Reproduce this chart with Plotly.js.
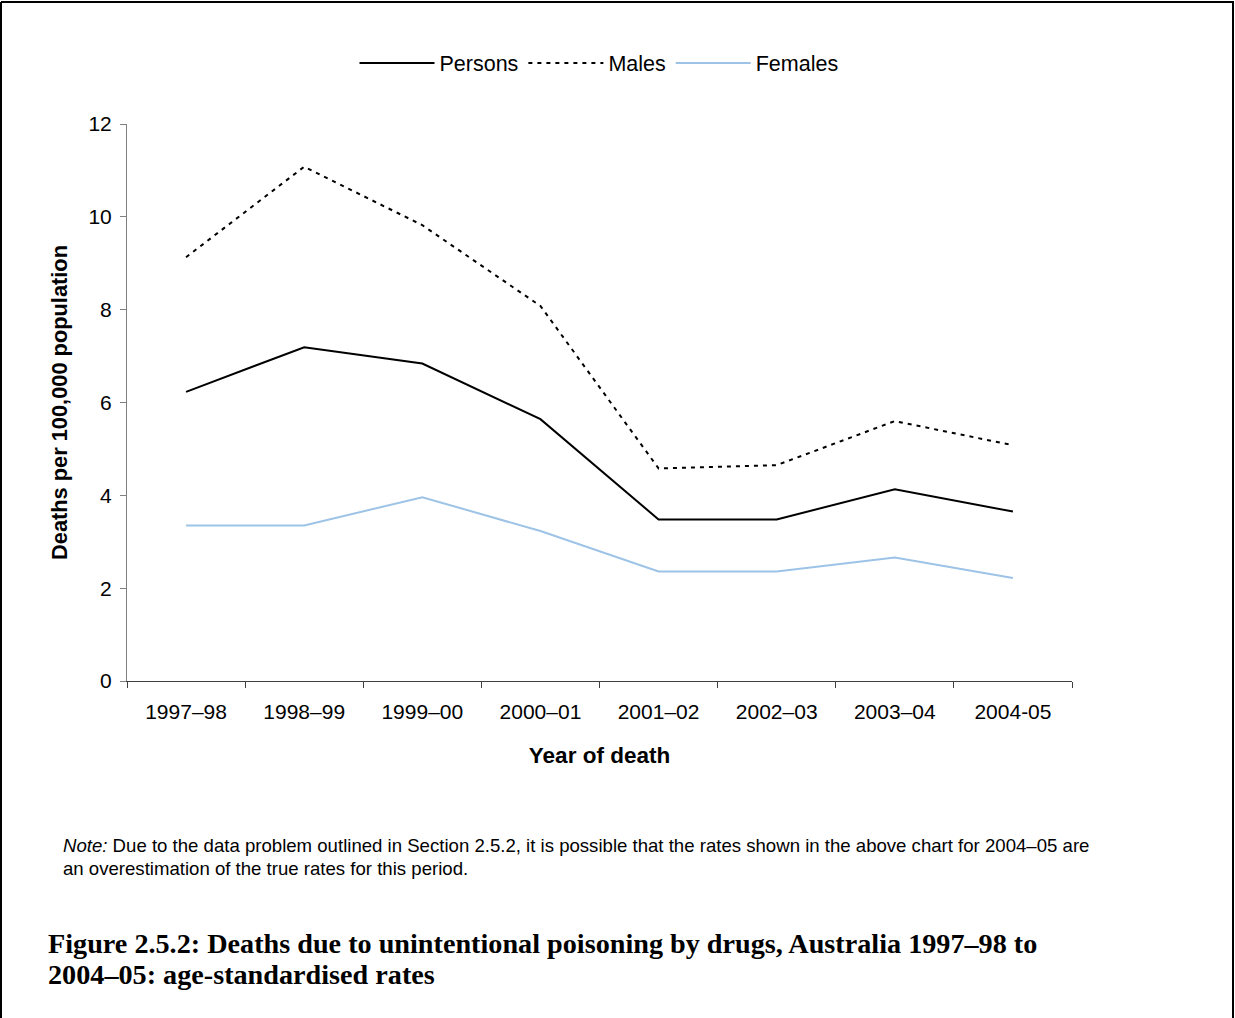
<!DOCTYPE html>
<html>
<head>
<meta charset="utf-8">
<script src="https://cdn.plot.ly/plotly-3.0.1.min.js"></script>
<style>
html,body{margin:0;padding:0;background:#fff;}
#chart{width:1235px;height:1018px;}
</style>
</head>
<body>
<div id="chart"></div>
<script>
var years = ["1997–98","1998–99","1999–00","2000–01","2001–02","2002–03","2003–04","2004-05"];
var persons = [6.23, 7.19, 6.84, 5.64, 3.48, 3.48, 4.13, 3.65];
var males = [9.13, 11.08, 9.82, 8.08, 4.58, 4.65, 5.60, 5.08];
var females = [3.35, 3.35, 3.96, 3.23, 2.36, 2.36, 2.66, 2.22];
var yTicks = [0, 2, 4, 6, 8, 10, 12];

var L = 127, R = 1072, T = 124, B = 681;
function px(x){ return (x - L) / (R - L); }
function py(y){ return (B - y) / (B - T); }

var traces = [
  {x: years, y: persons, name: "Persons", type: "scatter", mode: "lines",
   line: {color: "#000000", width: 2}},
  {x: years, y: males, name: "Males", type: "scatter", mode: "lines",
   line: {color: "#000000", width: 2, dash: "4px,5px"}},
  {x: years, y: females, name: "Females", type: "scatter", mode: "lines",
   line: {color: "#9DC3E6", width: 2}}
];

var layout = {
  width: 1235, height: 1018,
  paper_bgcolor: "#ffffff", plot_bgcolor: "#ffffff",
  margin: {l: L, r: 1235 - R, t: T, b: 1018 - B, pad: 0},
  font: {family: "Liberation Sans, Arial, sans-serif", color: "#000000", size: 21},
  showlegend: true,
  legend: {orientation: "h", x: px(599), xanchor: "center", y: py(63), yanchor: "middle",
           font: {size: 21.5}, itemwidth: 75, traceorder: "normal", bgcolor: "rgba(0,0,0,0)"},
  xaxis: {
    type: "category", range: [-0.5, 7.5], tickson: "boundaries",
    showline: true, linecolor: "#404040", linewidth: 1,
    ticks: "outside", ticklen: 6, tickcolor: "#404040",
    showgrid: false, zeroline: false, fixedrange: true,
    tickfont: {size: 21}, ticklabelstandoff: 12,
    title: {text: "<b>Year of death</b>", font: {size: 22.5}, standoff: 25}
  },
  yaxis: {
    range: [0, 12], tickvals: yTicks, ticktext: yTicks.map(String),
    showline: true, linecolor: "#808080", linewidth: 1,
    ticks: "outside", ticklen: 6, tickcolor: "#808080",
    showgrid: false, zeroline: false, fixedrange: true,
    tickfont: {size: 21}, ticklabelstandoff: 4,
    title: {text: "<b>Deaths per 100,000 population</b>", font: {size: 21.8}, standoff: 14}
  },
  shapes: [
    {type: "line", xref: "paper", yref: "paper", x0: px(1), x1: px(1), y0: py(2), y1: py(1018), line: {color: "#000", width: 2}},
    {type: "line", xref: "paper", yref: "paper", x0: px(1), x1: px(1234), y0: py(2), y1: py(2), line: {color: "#000", width: 2}},
    {type: "line", xref: "paper", yref: "paper", x0: px(1233), x1: px(1233), y0: py(2), y1: py(1018), line: {color: "#000", width: 2}}
  ],
  annotations: [
    {xref: "paper", yref: "paper", x: px(61), y: py(845), xanchor: "left", yanchor: "middle", showarrow: false,
     align: "left", font: {size: 18.6, family: "Liberation Sans, Arial, sans-serif"},
     text: "<i>Note:</i> Due to the data problem outlined in Section 2.5.2, it is possible that the rates shown in the above chart for 2004–05 are"},
    {xref: "paper", yref: "paper", x: px(61), y: py(868), xanchor: "left", yanchor: "middle", showarrow: false,
     align: "left", font: {size: 18.6, family: "Liberation Sans, Arial, sans-serif"},
     text: "an overestimation of the true rates for this period."},
    {xref: "paper", yref: "paper", x: px(46), y: py(943), xanchor: "left", yanchor: "middle", showarrow: false,
     align: "left", font: {size: 28.2, family: "Liberation Serif, Times New Roman, serif"},
     text: "<b>Figure 2.5.2: Deaths due to unintentional poisoning by drugs, Australia 1997–98 to</b>"},
    {xref: "paper", yref: "paper", x: px(46), y: py(975), xanchor: "left", yanchor: "middle", showarrow: false,
     align: "left", font: {size: 28.2, family: "Liberation Serif, Times New Roman, serif"},
     text: "<b>2004–05: age-standardised rates</b>"}
  ]
};

Plotly.newPlot("chart", traces, layout, {displayModeBar: false, staticPlot: true});
</script>
</body>
</html>
